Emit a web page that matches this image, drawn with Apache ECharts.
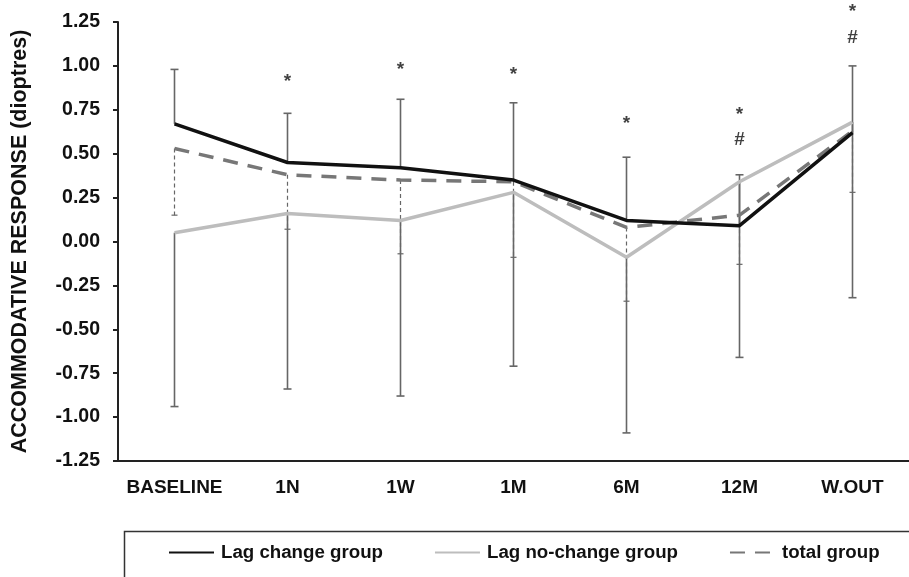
<!DOCTYPE html>
<html>
<head>
<meta charset="utf-8">
<script src="https://cdn.jsdelivr.net/npm/echarts@6/dist/echarts.min.js"></script>
<style>html,body{margin:0;padding:0;background:#fff;}#c{width:909px;height:577px;}</style>
</head>
<body>
<div id="c"></div>
<script>
const categories = ['BASELINE','1N','1W','1M','6M','12M','W.OUT'];
const lagChange = [0.67,0.45,0.42,0.35,0.12,0.09,0.62];
const lagNoChange = [0.05,0.16,0.12,0.28,-0.09,0.34,0.68];
const totalGroup = [0.53,0.38,0.35,0.34,0.08,0.15,0.63];
const lagChangeUpper = [0.98,0.73,0.81,0.79,0.48,0.38,1.00];
const lagNoChangeLower = [-0.94,-0.84,-0.88,-0.71,-1.09,-0.66,-0.32];
const totalLower = [0.15,0.07,-0.07,-0.09,-0.34,-0.13,0.28];
const starCats = ['1N','1W','1M','6M','12M','W.OUT'];
const starVals = [0.91,0.98,0.95,0.67,0.72,1.31];
const hashCats = ['12M','W.OUT'];
const hashVals = [0.58,1.16];

const FONT = '"Liberation Sans", Arial, sans-serif';

function errData(from, to){ return categories.map((c,i)=>[i, from[i], to[i]]); }
function errSeries(from, to, color, width, dash, capHalf){
  return {
    type:'custom', silent:true, z:1,
    data: errData(from,to),
    renderItem:function(params, api){
      const x = api.value(0);
      const p0 = api.coord([x, api.value(1)]);
      const p1 = api.coord([x, api.value(2)]);
      const st = {stroke:color, lineWidth:width, lineDash: dash || null};
      return {type:'group', children:[
        {type:'line', shape:{x1:p0[0],y1:p0[1],x2:p1[0],y2:p1[1]}, style:st},
        {type:'line', shape:{x1:p1[0]-capHalf,y1:p1[1],x2:p1[0]+capHalf,y2:p1[1]}, style:{stroke:color,lineWidth:width}}
      ]};
    }
  };
}
function textSeries(cats, vals, txt){
  return {
    type:'scatter', silent:true, symbolSize:0, z:5, clip:false,
    data: cats.map((c,i)=>[c, vals[i]]),
    label:{show:true, position:'inside', formatter:txt, color:'#111', fontFamily:FONT, fontWeight:'bold', fontSize:19}
  };
}

const chart = echarts.init(document.getElementById('c'), null, {renderer:'canvas'});
chart.setOption({
  backgroundColor:'#fff',
  animation:false,
  grid:{left:118, top:22, width:799, height:439, containLabel:false},
  xAxis:{
    type:'category', data:categories, boundaryGap:true,
    axisLine:{onZero:false, lineStyle:{color:'#222', width:2}},
    axisTick:{alignWithLabel:true, length:5, lineStyle:{color:'#222', width:2}},
    axisLabel:{interval:0, color:'#111', fontFamily:FONT, fontWeight:'bold', fontSize:19, margin:17},
    splitLine:{show:false}
  },
  yAxis:{
    type:'value', min:-1.25, max:1.25, interval:0.25,
    name:'ACCOMMODATIVE RESPONSE (dioptres)', nameLocation:'middle', nameGap:87, nameRotate:90,
    nameTextStyle:{color:'#111', fontFamily:FONT, fontWeight:'bold', fontSize:21.5},
    axisLine:{show:true, lineStyle:{color:'#222', width:2}},
    axisTick:{show:true, length:5, lineStyle:{color:'#222', width:2}},
    axisLabel:{color:'#111', fontFamily:FONT, fontWeight:'bold', fontSize:19.5, margin:18,
      formatter:function(v){ return v.toFixed(2); }},
    splitLine:{show:false}
  },
  legend:{
    data:['Lag change group','Lag no-change group','total group'],
    left:168, top:543, padding:0, itemWidth:45, itemHeight:14, itemGap:51,
    itemStyle:{opacity:0},
    textStyle:{color:'#111', fontFamily:FONT, fontWeight:'bold', fontSize:18.7, padding:[0,0,0,2]}
  },
  graphic:[{type:'rect', left:122, top:529, shape:{width:800, height:47}, style:{fill:'none', stroke:'#333', lineWidth:1.5}}],
  series:[
    errSeries(totalGroup, totalLower, '#666', 1.2, [4,3], 3),
    errSeries(lagChange, lagChangeUpper, '#666', 1.6, null, 4),
    errSeries(lagNoChange, lagNoChangeLower, '#666', 1.6, null, 4),
    {name:'Lag no-change group', type:'line', data:lagNoChange, symbol:'none', z:3,
      lineStyle:{color:'#bdbdbd', width:3.5}, itemStyle:{color:'#bdbdbd'}},
    {name:'total group', type:'line', data:totalGroup, symbol:'none', z:3,
      lineStyle:{color:'#777', width:3.5, type:[15,10]}, itemStyle:{color:'#777'}},
    {name:'Lag change group', type:'line', data:lagChange, symbol:'none', z:4,
      lineStyle:{color:'#111', width:3.5}, itemStyle:{color:'#111'}},
    textSeries(starCats, starVals, '*'),
    textSeries(hashCats, hashVals, '#')
  ]
});
</script>
</body>
</html>
